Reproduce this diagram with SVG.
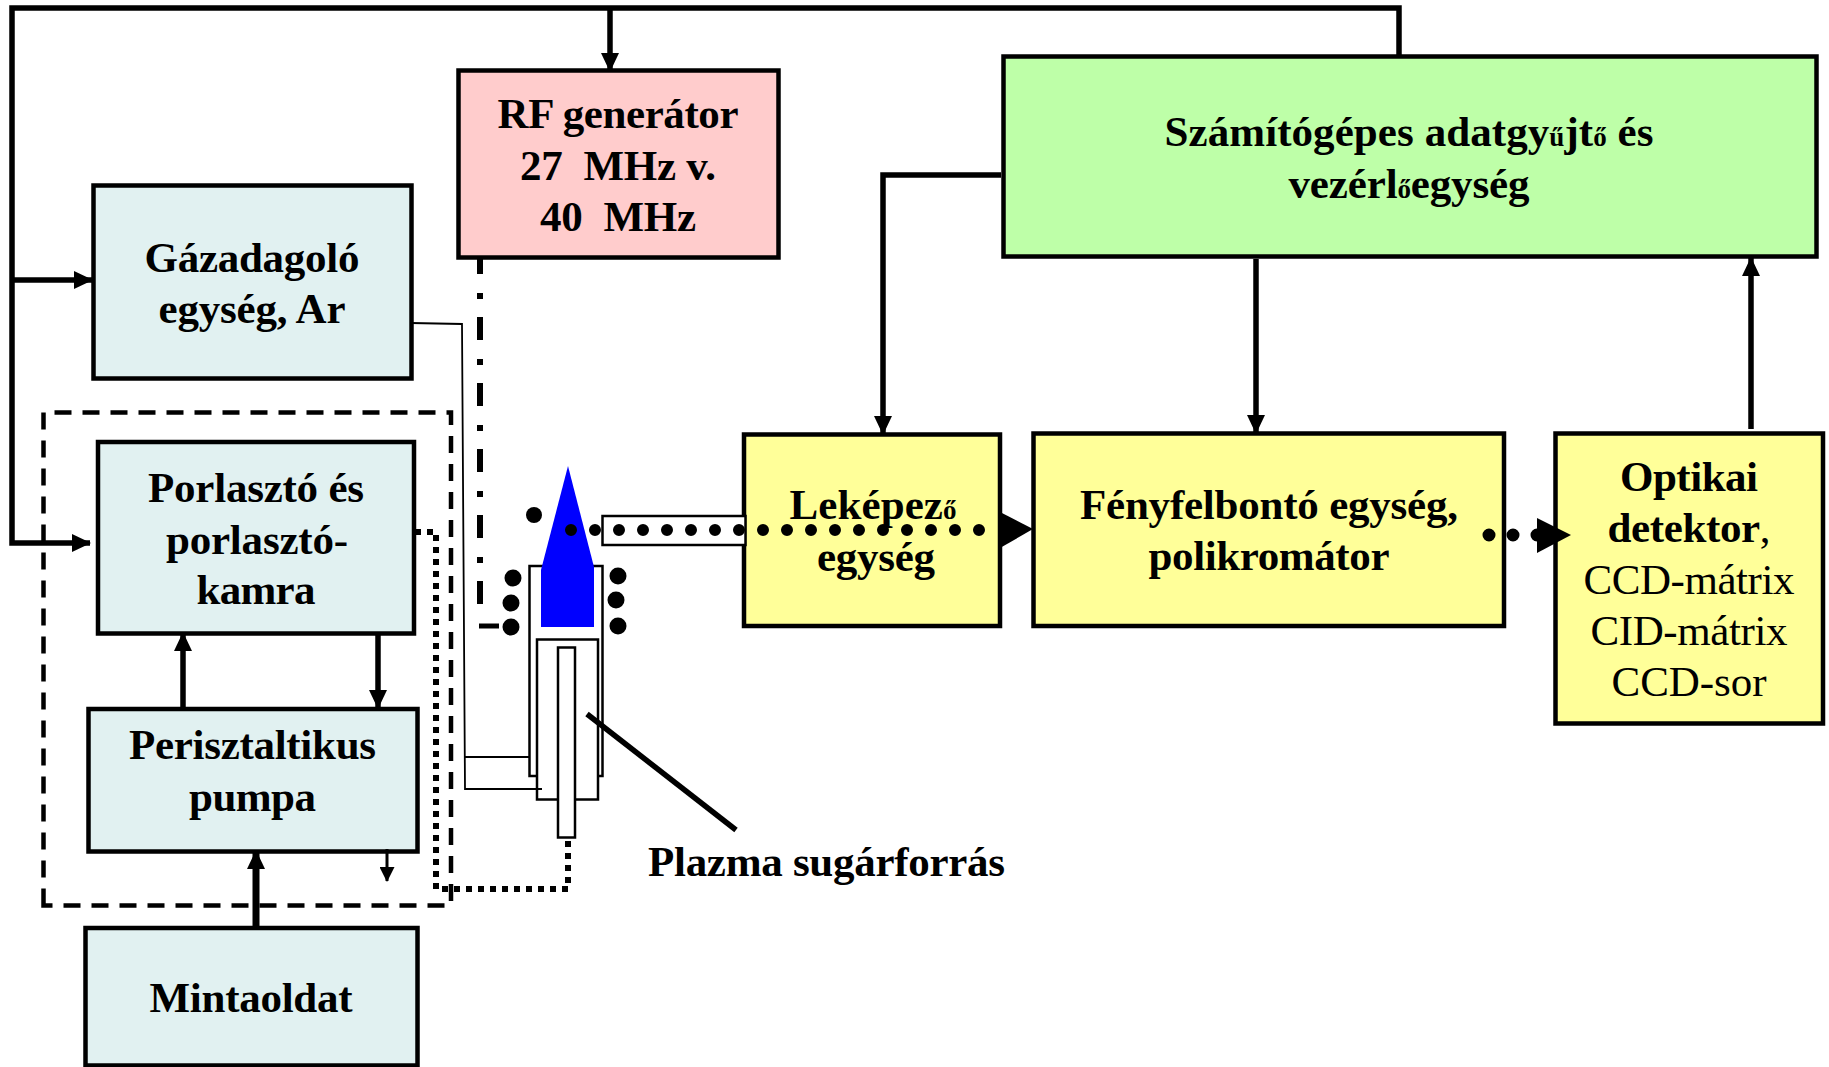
<svg xmlns="http://www.w3.org/2000/svg" width="1829" height="1067" viewBox="0 0 1829 1067">
<style>
text{font-family:"Liberation Serif","Times New Roman",serif;font-size:43px;font-weight:bold;fill:#000;text-anchor:middle}
.n{font-weight:normal}
.s{font-size:27px}
.box{stroke:#000;stroke-width:4.500}
.b{fill:#E1F1F1}.r{fill:#FFCCCC}.g{fill:#BEFFA8}.y{fill:#FFFF99}
.tube{fill:#fff;stroke:#000;stroke-width:2.500}
.l{fill:none;stroke:#000;stroke-width:5.500}
.thin{fill:none;stroke:#000;stroke-width:1.800}
</style>
<defs>
<marker id="a" markerUnits="userSpaceOnUse" markerWidth="19" markerHeight="18" refX="18" refY="9" orient="auto"><path d="M0 0L19 9L0 18Z"/></marker>
<marker id="c" markerUnits="userSpaceOnUse" markerWidth="15" markerHeight="15" refX="14" refY="7.500" orient="auto"><path d="M0 0L15 7.500L0 15Z"/></marker>
</defs>
<rect width="1829" height="1067" fill="#fff"/>
<g id="rf"><rect class="box r" x="458.500" y="70.500" width="320" height="187"/>
<text x="618" y="128" textLength="241">RF generátor</text><text x="618" y="180" textLength="196" xml:space="preserve">27  MHz v.</text><text x="618" y="231" textLength="156" xml:space="preserve">40  MHz</text></g>
<g id="szamitogep"><rect class="box g" x="1003.500" y="56.500" width="813" height="200"/>
<text x="1409" y="146" textLength="489">Számítógépes adatgy<tspan class="s">ű</tspan>jt<tspan class="s">ő</tspan> és</text><text x="1409" y="198" textLength="241">vezérl<tspan class="s">ő</tspan>egység</text></g>
<g id="gaz"><rect class="box b" x="93.500" y="185.500" width="318" height="193"/>
<text x="252" y="272" textLength="215">Gázadagoló</text><text x="252" y="323" textLength="187">egység, Ar</text></g>
<g id="porlaszto"><rect class="box b" x="98" y="442" width="316" height="191.500"/>
<text x="256" y="502" textLength="216">Porlasztó és</text><text x="257" y="554" textLength="182">porlasztó-</text><text x="256" y="604" textLength="119">kamra</text></g>
<g id="pumpa"><rect class="box b" x="88.500" y="709" width="329" height="142.500"/>
<text x="252.500" y="759" textLength="247">Perisztaltikus</text><text x="252.500" y="811" textLength="127">pumpa</text></g>
<g id="minta"><rect class="box b" x="85.500" y="928" width="332" height="137.500"/>
<text x="251" y="1012" textLength="203">Mintaoldat</text></g>
<g id="lekepezo"><rect class="box y" x="744" y="434.500" width="256" height="191.500"/>
<text x="873" y="519" textLength="167">Leképez<tspan class="s">ő</tspan></text><text x="876" y="571" textLength="118">egység</text></g>
<g id="fenyfelbonto"><rect class="box y" x="1033.500" y="433.500" width="470.500" height="192.500"/>
<text x="1269" y="519" textLength="378">Fényfelbontó egység,</text><text x="1269" y="570" textLength="241">polikromátor</text></g>
<g id="detektor"><rect class="box y" x="1555.500" y="433.500" width="267.500" height="290"/>
<text x="1689" y="491" textLength="138">Optikai</text><text x="1689" y="542" textLength="163">detektor<tspan class="n">,</tspan></text><text class="n" x="1689" y="594" textLength="211">CCD-mátrix</text><text class="n" x="1689" y="645" textLength="197">CID-mátrix</text><text class="n" x="1689" y="696" textLength="155">CCD-sor</text></g>
<g id="plazma">
<rect class="tube" x="529.500" y="566" width="73" height="210"/>
<path d="M568 466L594 567V627H541V570Z" fill="#0000FF"/>
<rect class="tube" x="537" y="639.500" width="61" height="160"/>
<rect class="tube" x="558" y="647.500" width="17" height="190"/>
<rect class="tube" x="602.500" y="516" width="143" height="29"/>
<circle cx="534" cy="515" r="8"/><circle cx="513" cy="578" r="8.500"/><circle cx="511" cy="603" r="8.500"/><circle cx="511" cy="627" r="8.500"/><circle cx="618" cy="576" r="8.500"/><circle cx="616" cy="600" r="8.500"/><circle cx="618" cy="626" r="8.500"/>
<text x="648" y="876" style="text-anchor:start" textLength="357">Plazma sugárforrás</text></g>
<g id="connectors">
<path d="M43.500 905.500V412.500H451V905.500Z" fill="none" stroke="#000" stroke-width="4.500" stroke-dasharray="17 11"/>
<path d="M411 323L462 324L465 789H542M464 757H529" class="thin"/>
<path d="M480 257V604" fill="none" stroke="#000" stroke-width="6" stroke-dasharray="23 19 6 18" stroke-dashoffset="6"/>
<path d="M479 626H499" style="fill:none;stroke:#000;stroke-width:5"/>
<path d="M415 532H436V889H568V837" fill="none" stroke="#000" stroke-width="6" stroke-dasharray="6 6"/>
<path d="M1399 57V8H12V543H90" class="l" marker-end="url(#a)"/>
<path d="M12 280H92" class="l" marker-end="url(#a)"/>
<path d="M610 8V71" class="l" marker-end="url(#a)"/>
<path d="M1001 175H883V434" class="l" marker-end="url(#a)"/>
<path d="M1256 259V433" class="l" marker-end="url(#a)"/>
<path d="M1751 429V258" class="l" marker-end="url(#a)"/>
<path d="M183 708V633" class="l" marker-end="url(#a)"/>
<path d="M378 633V708" class="l" marker-end="url(#a)"/>
<path d="M256 928V851" class="l" style="stroke-width:7" marker-end="url(#a)"/>
<path d="M387 849V881" style="fill:none;stroke:#000;stroke-width:3" marker-end="url(#c)"/>
<path d="M587 714L736 830" style="fill:none;stroke:#000;stroke-width:5.500"/>
<path d="M571 530H981" fill="none" stroke="#000" stroke-width="12" stroke-linecap="round" stroke-dasharray="0 24"/>
<path d="M1000 512L1033 529L1000 548Z"/>
<path d="M1489 535H1540" fill="none" stroke="#000" stroke-width="13" stroke-linecap="round" stroke-dasharray="0 24"/>
<path d="M1537 518L1571 535L1537 553Z"/>
</g>
</svg>
